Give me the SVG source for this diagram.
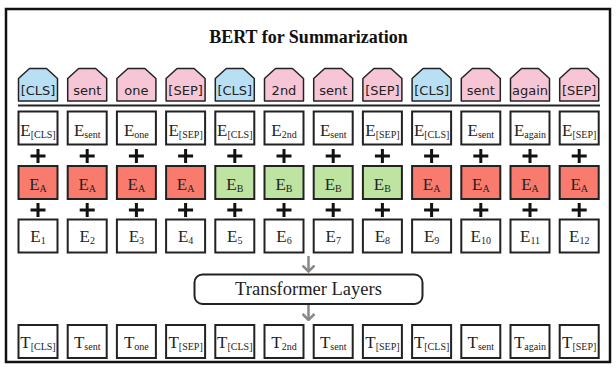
<svg xmlns="http://www.w3.org/2000/svg" width="616" height="374" viewBox="0 0 616 374">
<defs>
<style>
.frame{fill:#fff;stroke:#111;stroke-width:2.5}
.tag{stroke:#222;stroke-width:1.5;stroke-linejoin:round}
.cls{fill:#b9dff5}
.tok{fill:#f7c6d6}
.box{fill:#fff;stroke:#222;stroke-width:2}
.ea{fill:#f97b6d}
.eb{fill:#bfe4a2}
.tl{font-family:"DejaVu Sans",sans-serif;font-size:13px;fill:#222;text-anchor:middle}
.e{font-family:"Liberation Serif",serif;font-size:17px;fill:#222;text-anchor:middle}
.sub{font-size:10px}
.plus{stroke:#111;stroke-width:3}
.arr{stroke:#888;stroke-width:2.5;fill:none}
.title{font-family:"Liberation Serif",serif;font-weight:bold;font-size:18px;fill:#111;text-anchor:middle}
.tf{font-family:"Liberation Serif",serif;font-size:18.5px;fill:#222;text-anchor:middle}
</style>
<marker id="ah" viewBox="0 0 8 14" refX="7" refY="7" markerWidth="8" markerHeight="14" markerUnits="userSpaceOnUse" orient="auto">
<path d="M1 1 L7 7 L1 13" fill="none" stroke="#888" stroke-width="2.5"/>
</marker>
<path id="tagshape" d="M-19.5 10 L-8.5 0 L8.5 0 L19.5 10 L19.5 32.5 L-19.5 32.5 Z"/>
</defs>
<rect class="frame" x="6" y="9" width="604" height="353"/>
<text class="title" x="308.5" y="43">BERT for Summarization</text>
<line x1="18" y1="105.5" x2="600" y2="105.5" stroke="#222" stroke-width="2"/>

<g id="tokens">
<g id="tok1"><use href="#tagshape" x="38" y="68.5" class="tag cls"/><text class="tl" x="38" y="95">[CLS]</text></g>
<g id="tok2"><use href="#tagshape" x="87.2" y="68.5" class="tag tok"/><text class="tl" x="87.2" y="95">sent</text></g>
<g id="tok3"><use href="#tagshape" x="136.4" y="68.5" class="tag tok"/><text class="tl" x="136.4" y="95">one</text></g>
<g id="tok4"><use href="#tagshape" x="185.6" y="68.5" class="tag tok"/><text class="tl" x="185.6" y="95">[SEP]</text></g>
<g id="tok5"><use href="#tagshape" x="234.8" y="68.5" class="tag cls"/><text class="tl" x="234.8" y="95">[CLS]</text></g>
<g id="tok6"><use href="#tagshape" x="284" y="68.5" class="tag tok"/><text class="tl" x="284" y="95">2nd</text></g>
<g id="tok7"><use href="#tagshape" x="333.2" y="68.5" class="tag tok"/><text class="tl" x="333.2" y="95">sent</text></g>
<g id="tok8"><use href="#tagshape" x="382.4" y="68.5" class="tag tok"/><text class="tl" x="382.4" y="95">[SEP]</text></g>
<g id="tok9"><use href="#tagshape" x="431.6" y="68.5" class="tag cls"/><text class="tl" x="431.6" y="95">[CLS]</text></g>
<g id="tok10"><use href="#tagshape" x="480.8" y="68.5" class="tag tok"/><text class="tl" x="480.8" y="95">sent</text></g>
<g id="tok11"><use href="#tagshape" x="530" y="68.5" class="tag tok"/><text class="tl" x="530" y="95">again</text></g>
<g id="tok12"><use href="#tagshape" x="579.2" y="68.5" class="tag tok"/><text class="tl" x="579.2" y="95">[SEP]</text></g>
</g>

<g id="token-emb">
<g id="te1"><rect class="box" x="18.5" y="111.5" width="39" height="33"/><text class="e" x="38" y="136">E<tspan class="sub" dy="2">[CLS]</tspan></text></g>
<g id="te2"><rect class="box" x="67.7" y="111.5" width="39" height="33"/><text class="e" x="87.2" y="136">E<tspan class="sub" dy="2">sent</tspan></text></g>
<g id="te3"><rect class="box" x="116.9" y="111.5" width="39" height="33"/><text class="e" x="136.4" y="136">E<tspan class="sub" dy="2">one</tspan></text></g>
<g id="te4"><rect class="box" x="166.1" y="111.5" width="39" height="33"/><text class="e" x="185.6" y="136">E<tspan class="sub" dy="2">[SEP]</tspan></text></g>
<g id="te5"><rect class="box" x="215.3" y="111.5" width="39" height="33"/><text class="e" x="234.8" y="136">E<tspan class="sub" dy="2">[CLS]</tspan></text></g>
<g id="te6"><rect class="box" x="264.5" y="111.5" width="39" height="33"/><text class="e" x="284" y="136">E<tspan class="sub" dy="2">2nd</tspan></text></g>
<g id="te7"><rect class="box" x="313.7" y="111.5" width="39" height="33"/><text class="e" x="333.2" y="136">E<tspan class="sub" dy="2">sent</tspan></text></g>
<g id="te8"><rect class="box" x="362.9" y="111.5" width="39" height="33"/><text class="e" x="382.4" y="136">E<tspan class="sub" dy="2">[SEP]</tspan></text></g>
<g id="te9"><rect class="box" x="412.1" y="111.5" width="39" height="33"/><text class="e" x="431.6" y="136">E<tspan class="sub" dy="2">[CLS]</tspan></text></g>
<g id="te10"><rect class="box" x="461.3" y="111.5" width="39" height="33"/><text class="e" x="480.8" y="136">E<tspan class="sub" dy="2">sent</tspan></text></g>
<g id="te11"><rect class="box" x="510.5" y="111.5" width="39" height="33"/><text class="e" x="530" y="136">E<tspan class="sub" dy="2">again</tspan></text></g>
<g id="te12"><rect class="box" x="559.7" y="111.5" width="39" height="33"/><text class="e" x="579.2" y="136">E<tspan class="sub" dy="2">[SEP]</tspan></text></g>
</g>

<g id="plus-signs" class="plus">
<path d="M30.5 156H45.5M38 149V163M79.7 156H94.7M87.2 149V163M128.9 156H143.9M136.4 149V163M178.1 156H193.1M185.6 149V163M227.3 156H242.3M234.8 149V163M276.5 156H291.5M284 149V163M325.7 156H340.7M333.2 149V163M374.9 156H389.9M382.4 149V163M424.1 156H439.1M431.6 149V163M473.3 156H488.3M480.8 149V163M522.5 156H537.5M530 149V163M571.7 156H586.7M579.2 149V163"/>
<path d="M30.5 210H45.5M38 203V217M79.7 210H94.7M87.2 203V217M128.9 210H143.9M136.4 203V217M178.1 210H193.1M185.6 203V217M227.3 210H242.3M234.8 203V217M276.5 210H291.5M284 203V217M325.7 210H340.7M333.2 203V217M374.9 210H389.9M382.4 203V217M424.1 210H439.1M431.6 203V217M473.3 210H488.3M480.8 203V217M522.5 210H537.5M530 203V217M571.7 210H586.7M579.2 203V217"/>
</g>

<g id="segment-emb">
<g id="se1"><rect class="box ea" x="18.5" y="166" width="39" height="33"/><text class="e" x="38" y="190">E<tspan class="sub" dy="1.5">A</tspan></text></g>
<g id="se2"><rect class="box ea" x="67.7" y="166" width="39" height="33"/><text class="e" x="87.2" y="190">E<tspan class="sub" dy="1.5">A</tspan></text></g>
<g id="se3"><rect class="box ea" x="116.9" y="166" width="39" height="33"/><text class="e" x="136.4" y="190">E<tspan class="sub" dy="1.5">A</tspan></text></g>
<g id="se4"><rect class="box ea" x="166.1" y="166" width="39" height="33"/><text class="e" x="185.6" y="190">E<tspan class="sub" dy="1.5">A</tspan></text></g>
<g id="se5"><rect class="box eb" x="215.3" y="166" width="39" height="33"/><text class="e" x="234.8" y="190">E<tspan class="sub" dy="1.5">B</tspan></text></g>
<g id="se6"><rect class="box eb" x="264.5" y="166" width="39" height="33"/><text class="e" x="284" y="190">E<tspan class="sub" dy="1.5">B</tspan></text></g>
<g id="se7"><rect class="box eb" x="313.7" y="166" width="39" height="33"/><text class="e" x="333.2" y="190">E<tspan class="sub" dy="1.5">B</tspan></text></g>
<g id="se8"><rect class="box eb" x="362.9" y="166" width="39" height="33"/><text class="e" x="382.4" y="190">E<tspan class="sub" dy="1.5">B</tspan></text></g>
<g id="se9"><rect class="box ea" x="412.1" y="166" width="39" height="33"/><text class="e" x="431.6" y="190">E<tspan class="sub" dy="1.5">A</tspan></text></g>
<g id="se10"><rect class="box ea" x="461.3" y="166" width="39" height="33"/><text class="e" x="480.8" y="190">E<tspan class="sub" dy="1.5">A</tspan></text></g>
<g id="se11"><rect class="box ea" x="510.5" y="166" width="39" height="33"/><text class="e" x="530" y="190">E<tspan class="sub" dy="1.5">A</tspan></text></g>
<g id="se12"><rect class="box ea" x="559.7" y="166" width="39" height="33"/><text class="e" x="579.2" y="190">E<tspan class="sub" dy="1.5">A</tspan></text></g>
</g>

<g id="position-emb">
<g id="pe1"><rect class="box" x="18.5" y="219.5" width="39" height="33"/><text class="e" x="38" y="242">E<tspan class="sub" dy="2">1</tspan></text></g>
<g id="pe2"><rect class="box" x="67.7" y="219.5" width="39" height="33"/><text class="e" x="87.2" y="242">E<tspan class="sub" dy="2">2</tspan></text></g>
<g id="pe3"><rect class="box" x="116.9" y="219.5" width="39" height="33"/><text class="e" x="136.4" y="242">E<tspan class="sub" dy="2">3</tspan></text></g>
<g id="pe4"><rect class="box" x="166.1" y="219.5" width="39" height="33"/><text class="e" x="185.6" y="242">E<tspan class="sub" dy="2">4</tspan></text></g>
<g id="pe5"><rect class="box" x="215.3" y="219.5" width="39" height="33"/><text class="e" x="234.8" y="242">E<tspan class="sub" dy="2">5</tspan></text></g>
<g id="pe6"><rect class="box" x="264.5" y="219.5" width="39" height="33"/><text class="e" x="284" y="242">E<tspan class="sub" dy="2">6</tspan></text></g>
<g id="pe7"><rect class="box" x="313.7" y="219.5" width="39" height="33"/><text class="e" x="333.2" y="242">E<tspan class="sub" dy="2">7</tspan></text></g>
<g id="pe8"><rect class="box" x="362.9" y="219.5" width="39" height="33"/><text class="e" x="382.4" y="242">E<tspan class="sub" dy="2">8</tspan></text></g>
<g id="pe9"><rect class="box" x="412.1" y="219.5" width="39" height="33"/><text class="e" x="431.6" y="242">E<tspan class="sub" dy="2">9</tspan></text></g>
<g id="pe10"><rect class="box" x="461.3" y="219.5" width="39" height="33"/><text class="e" x="480.8" y="242">E<tspan class="sub" dy="2">10</tspan></text></g>
<g id="pe11"><rect class="box" x="510.5" y="219.5" width="39" height="33"/><text class="e" x="530" y="242">E<tspan class="sub" dy="2">11</tspan></text></g>
<g id="pe12"><rect class="box" x="559.7" y="219.5" width="39" height="33"/><text class="e" x="579.2" y="242">E<tspan class="sub" dy="2">12</tspan></text></g>
</g>

<g id="transformer">
<rect class="box" x="194.5" y="274.5" width="228" height="29.5" rx="8"/>
<text class="tf" x="308.5" y="295">Transformer Layers</text>
</g>

<g id="connectors">
<line class="arr" x1="308.5" y1="256" x2="308.5" y2="271.5" marker-end="url(#ah)"/>
<line class="arr" x1="308.5" y1="305" x2="308.5" y2="320" marker-end="url(#ah)"/>
</g>

<g id="outputs">
<g id="t1"><rect class="box cls" x="18.5" y="325" width="39" height="33"/><text class="e" x="38" y="348">T<tspan class="sub" dy="1.5">[CLS]</tspan></text></g>
<g id="t2"><rect class="box" x="67.7" y="325" width="39" height="33"/><text class="e" x="87.2" y="348">T<tspan class="sub" dy="1.5">sent</tspan></text></g>
<g id="t3"><rect class="box" x="116.9" y="325" width="39" height="33"/><text class="e" x="136.4" y="348">T<tspan class="sub" dy="1.5">one</tspan></text></g>
<g id="t4"><rect class="box" x="166.1" y="325" width="39" height="33"/><text class="e" x="185.6" y="348">T<tspan class="sub" dy="1.5">[SEP]</tspan></text></g>
<g id="t5"><rect class="box cls" x="215.3" y="325" width="39" height="33"/><text class="e" x="234.8" y="348">T<tspan class="sub" dy="1.5">[CLS]</tspan></text></g>
<g id="t6"><rect class="box" x="264.5" y="325" width="39" height="33"/><text class="e" x="284" y="348">T<tspan class="sub" dy="1.5">2nd</tspan></text></g>
<g id="t7"><rect class="box" x="313.7" y="325" width="39" height="33"/><text class="e" x="333.2" y="348">T<tspan class="sub" dy="1.5">sent</tspan></text></g>
<g id="t8"><rect class="box" x="362.9" y="325" width="39" height="33"/><text class="e" x="382.4" y="348">T<tspan class="sub" dy="1.5">[SEP]</tspan></text></g>
<g id="t9"><rect class="box cls" x="412.1" y="325" width="39" height="33"/><text class="e" x="431.6" y="348">T<tspan class="sub" dy="1.5">[CLS]</tspan></text></g>
<g id="t10"><rect class="box" x="461.3" y="325" width="39" height="33"/><text class="e" x="480.8" y="348">T<tspan class="sub" dy="1.5">sent</tspan></text></g>
<g id="t11"><rect class="box" x="510.5" y="325" width="39" height="33"/><text class="e" x="530" y="348">T<tspan class="sub" dy="1.5">again</tspan></text></g>
<g id="t12"><rect class="box" x="559.7" y="325" width="39" height="33"/><text class="e" x="579.2" y="348">T<tspan class="sub" dy="1.5">[SEP]</tspan></text></g>
</g>
</svg>
